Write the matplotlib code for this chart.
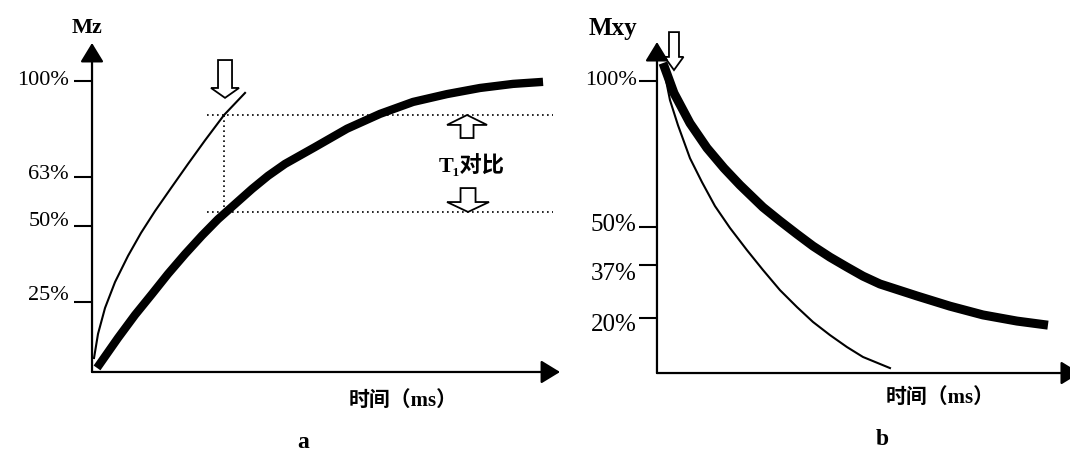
import matplotlib
matplotlib.use('Agg')
import matplotlib.pyplot as plt
from matplotlib.transforms import ScaledTranslation

plt.rcParams['font.family'] = ['Liberation Serif', 'DejaVu Serif', 'Noto Sans CJK SC']

# panel a: T1 recovery (time in arbitrary units, Mz in %)
a_short_t = [2, 6, 13, 23, 36, 49, 63, 79, 96, 113, 132, 153]
a_short_mz = [4.8, 13.1, 22.0, 30.9, 39.9, 47.8, 55.3, 63.2, 71.5, 79.6, 88.3, 95.9]
a_long_t = [5, 26, 43, 60, 76, 93, 110, 126, 143, 160, 176, 193, 223, 255, 288, 321, 355, 388, 421, 451]
a_long_mz = [1.4, 11.7, 19.6, 26.8, 33.7, 40.5, 46.9, 52.5, 57.7, 62.9, 67.4, 71.5, 77.3, 83.6, 88.7,
             92.8, 95.5, 97.6, 99.0, 99.7]
a_tick_pos = [24, 50, 67, 100]
a_tick_labels = ['25%', '50%', '63%', '100%']
a_tick_nudge = [9, 7, 5, 3]          # px, labels sit a bit above their ticks
a_contrast_hi = 88.3
a_contrast_lo = 55.0

# panel b: T2 decay
b_short_t = [6, 13, 21, 33, 45, 58, 73, 90, 106, 123, 140, 156, 173, 190, 206, 233]
b_short_mxy = [105.5, 93.5, 84.9, 73.6, 65.4, 57.2, 49.7, 42.1, 35.3, 28.4, 22.6, 17.5, 13.0, 8.9,
               5.5, 1.7]
b_long_t = [6, 17, 33, 50, 67, 83, 106, 123, 140, 156, 173, 190, 206, 223, 260, 293, 326, 360, 391]
b_long_mxy = [106.2, 95.9, 85.6, 77.1, 70.2, 64.4, 56.8, 52.1, 47.6, 43.5, 39.7, 36.3, 33.2, 30.5,
              26.4, 22.9, 19.9, 17.8, 16.4]
b_tick_pos = [19, 37, 50, 100]
b_tick_labels = ['20%', '37%', '50%', '100%']
b_tick_nudge = [-5, -6, 5, 3]

fig = plt.figure(figsize=(10.7, 4.51), dpi=100)
ax1 = fig.add_axes([0.0860, 0.1752, 0.4374, 0.7295])
ax2 = fig.add_axes([0.6140, 0.1729, 0.3953, 0.7339])


def setup_axes(ax, xmax, ymax, ticks, labels, nudges, sizes, pad):
    ax.set_xlim(0, xmax)
    ax.set_ylim(0, ymax)
    for s in ax.spines.values():
        s.set_visible(False)
    ax.set_xticks([])
    ax.set_yticks(ticks)
    ax.set_yticklabels(labels)
    ax.tick_params(axis='y', direction='out', length=13, width=1.5, pad=pad)
    for lab, dy, fs in zip(ax.get_yticklabels(), nudges, sizes):
        lab.set_fontsize(fs)
        lab.set_transform(lab.get_transform() + ScaledTranslation(0, dy / 100, fig.dpi_scale_trans))
    arr = dict(arrowstyle='-|>,head_length=0.9,head_width=0.55', color='black', lw=1.6,
               shrinkA=0, shrinkB=0, mutation_scale=13)
    ax.annotate('', xy=(0, 1), xytext=(0, 0), xycoords='axes fraction', arrowprops=arr,
                annotation_clip=False)
    ax.annotate('', xy=(1, 0), xytext=(0, 0), xycoords='axes fraction', arrowprops=arr,
                annotation_clip=False)


setup_axes(ax1, 468, 113.06, a_tick_pos, a_tick_labels, a_tick_nudge, [16, 16, 16, 16], 3.6)
setup_axes(ax2, 423, 113.4, b_tick_pos, b_tick_labels, b_tick_nudge, [18, 18, 18, 16], 1.5)

# curves
curve = dict(color='black', solid_joinstyle='round')
ax1.plot(a_long_t, a_long_mz, lw=6, solid_capstyle='butt', **curve)
ax1.plot(a_short_t, a_short_mz, lw=1.5, **curve)
ax2.plot(b_long_t, b_long_mxy, lw=6.5, solid_capstyle='butt', **curve)
ax2.plot(b_short_t, b_short_mxy, lw=1.5, **curve)

# T1 contrast guide lines
dots = dict(color='black', lw=1.2, linestyle=(0, (1, 2)))
ax1.plot([115, 461], [a_contrast_hi, a_contrast_hi], **dots)
ax1.plot([115, 461], [a_contrast_lo, a_contrast_lo], **dots)
ax1.plot([132, 132], [a_contrast_lo, a_contrast_hi], **dots)

# hollow arrows
hollow = dict(fc='white', ec='black', lw=1.3, length_includes_head=True, clip_on=False)
ax1.arrow(133, 107.2, 0, -13.0, width=14, head_width=28, head_length=3.4, **hollow)
ax1.arrow(375, 80.4, 0, a_contrast_hi - 80.4, width=13, head_width=40, head_length=3.4, **hollow)
ax1.arrow(376, 63.2, 0, a_contrast_lo - 63.2, width=15, head_width=42, head_length=3.4, **hollow)
ax2.arrow(17, 116.8, 0, -13.0, width=10, head_width=19, head_length=4.5, **hollow)

ax1.text(380, 71.1, 'T₁对比', ha='center', va='center', fontsize=16, fontweight='bold')

# axis titles and panel letters
ax1.text(-0.01, 1.045, 'Mz', transform=ax1.transAxes, ha='center', va='center',
         fontsize=16, fontweight='bold')
ax2.text(-0.104, 1.042, 'Mxy', transform=ax2.transAxes, ha='center', va='center',
         fontsize=18, fontweight='bold')
ax1.text(0.665, -0.088, '时间（ms）', transform=ax1.transAxes, ha='center', va='center',
         fontsize=15, fontweight='bold')
ax2.text(0.669, -0.0755, '时间（ms）', transform=ax2.transAxes, ha='center', va='center',
         fontsize=15, fontweight='bold')
ax1.text(0.451, -0.213, 'a', transform=ax1.transAxes, ha='center', va='center',
         fontsize=17, fontweight='bold')
ax2.text(0.532, -0.202, 'b', transform=ax2.transAxes, ha='center', va='center',
         fontsize=17, fontweight='bold')

fig.savefig('out.png', dpi=100)
